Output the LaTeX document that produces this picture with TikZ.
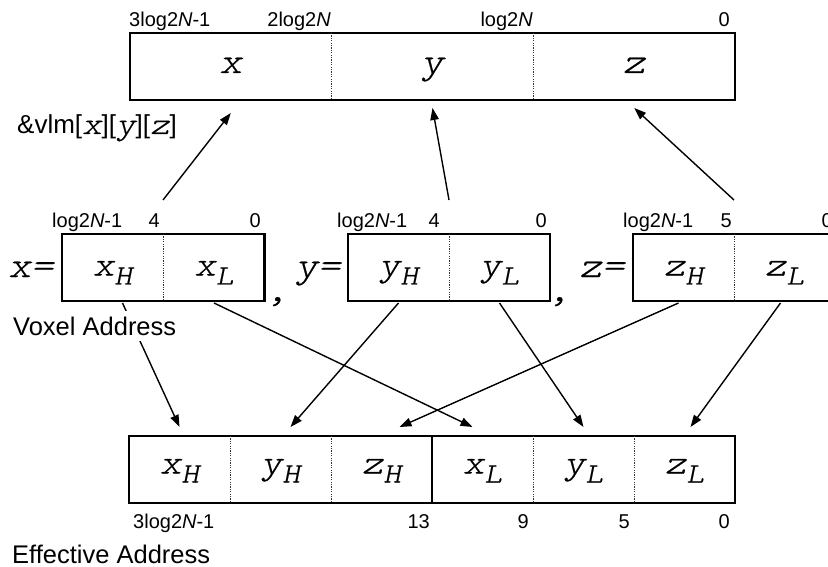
\documentclass[tikz,border=0pt]{standalone}
\usepackage{fontspec}
\setmainfont{Liberation Sans}
\newfontfamily\vfam{lmmonolt10-oblique.otf}[FakeStretch=1.2,FakeBold=0.6]
\usetikzlibrary{arrows.meta}
\newcommand\vbig[1]{{\fontsize{36}{36}\vfam #1}}
\newcommand\vsmall[1]{{\fontsize{31}{31}\vfam #1}}
\newcommand\vcell[2]{{\fontsize{34}{34}\vfam #1}\raisebox{-9pt}{\fontsize{28}{28}\vfam #2}}
\newcommand\blab{\fontsize{20}{20}\selectfont}
\newcommand\tlab{\fontsize{25.5}{26}\selectfont}
\begin{document}
\begin{tikzpicture}[x=1pt,y=-1pt,
  cell/.style={minimum width=101pt, minimum height=67pt, inner sep=0pt, outer sep=0pt},
  tcell/.style={cell, minimum width=201.7pt},
  boxline/.style={line width=2.6pt},
  sepline/.style={line width=0.8pt, dash pattern=on 1.2pt off 1.2pt, black!80},
  arr/.style={line width=1.4pt, -{Triangle[length=12pt,width=8.5pt]}},
  bit/.style={inner sep=0pt, font=\blab},
  txt/.style={inner sep=0pt, anchor=base}]
\useasboundingbox (0,0) rectangle (828,567);
% top box
\node[tcell] (tx) at (230.8,66.5) {};
\node[tcell] (ty) at (432.5,66.5) {};
\node[tcell] (tz) at (634.2,66.5) {};
\node[txt] (ttx) at (230.8,73) {\vbig{x}};
\node[txt] (tty) at (432.5,73) {\vbig{y}};
\node[txt] (ttz) at (634.2,73) {\vbig{z}};
\draw[boxline] (tx.north west) rectangle (tz.south east);
\draw[sepline] (tx.north east) -- (tx.south east);
\draw[sepline] (ty.north east) -- (ty.south east);
\node[bit, anchor=base west] (l1) at (129,27) {3log2\textit{N}-1};
\node[bit, anchor=base east] (l2) at (331,27) {2log2\textit{N}};
\node[bit, anchor=base east] (l3) at (533,27) {log2\textit{N}};
\node[bit, anchor=base east] (l4) at (730,27) {0};
\node[inner sep=0pt, anchor=base west] (vlm) at (17,134) {\fontsize{26}{26}\selectfont\&vlm[\vsmall{x}][\vsmall{y}][\vsmall{z}]};
% middle boxes
\node[cell] (mxH) at (112.5,267.5) {};
\node[cell] (mxL) at (214,267.5) {};
\node[cell] (myH) at (398.5,267.5) {};
\node[cell] (myL) at (499.5,267.5) {};
\node[cell] (mzH) at (683.5,267.5) {};
\node[cell] (mzL) at (784.5,267.5) {};
\foreach \n/\a/\b in {mxH/x/H, mxL/x/L, myH/y/H, myL/y/L, mzH/z/H, mzL/z/L}
  \node[txt] (t\n) at ([yshift=-8pt]\n.center) {\vcell{\a}{\b}};
\draw[boxline] (mxH.north west) rectangle (mxL.south east);
\draw[sepline] (mxH.north east) -- (mxH.south east);
\draw[boxline] (myH.north west) rectangle (myL.south east);
\draw[sepline] (myH.north east) -- (myH.south east);
\draw[boxline] (mzH.north west) rectangle (mzL.south east);
\draw[sepline] (mzH.north east) -- (mzH.south east);
\node[txt, anchor=base east] (eqx) at (54,277) {\vbig{x=}};
\node[txt, anchor=base east] (eqy) at (341,277) {\vbig{y=}};
\node[txt, anchor=base east] (eqz) at (625,277) {\vbig{z=}};
\node[txt] (c1) at (277,301) {\vbig{,}};
\node[txt] (c2) at (559,301) {\vbig{,}};
\node[bit, anchor=base west] (m1) at (52,228) {log2\textit{N}-1};
\node[bit, anchor=base east] (m2) at (160,228) {4};
\node[bit, anchor=base east] (m3) at (261,228) {0};
\node[bit, anchor=base west] (m4) at (337,228) {log2\textit{N}-1};
\node[bit, anchor=base east] (m5) at (440,228) {4};
\node[bit, anchor=base east] (m6) at (547,228) {0};
\node[bit, anchor=base west] (m7) at (623,228) {log2\textit{N}-1};
\node[bit, anchor=base east] (m8) at (732,228) {5};
\node[bit, anchor=base east] (m9) at (833,228) {0};
% bottom box
\node[cell] (bxH) at (179.5,469.5) {};
\node[cell] (byH) at (280.5,469.5) {};
\node[cell] (bzH) at (381.5,469.5) {};
\node[cell] (bxL) at (482.5,469.5) {};
\node[cell] (byL) at (583.5,469.5) {};
\node[cell] (bzL) at (684.5,469.5) {};
\foreach \n/\a/\b in {bxH/x/H, byH/y/H, bzH/z/H, bxL/x/L, byL/y/L, bzL/z/L}
  \node[txt] (t\n) at ([yshift=-4pt]\n.center) {\vcell{\a}{\b}};
\draw[boxline] (bxH.north west) rectangle (bzL.south east);
\draw[sepline] (bxH.north east) -- (bxH.south east);
\draw[sepline] (byH.north east) -- (byH.south east);
\draw[line width=1.6pt] (bzH.north east) -- (bzH.south east);
\draw[sepline] (bxL.north east) -- (bxL.south east);
\draw[sepline] (byL.north east) -- (byL.south east);
\node[bit, anchor=base west] (b1) at (133,528) {3log2\textit{N}-1};
\node[bit, anchor=base east] (b2) at (430,528) {13};
\node[bit, anchor=base east] (b3) at (529,528) {9};
\node[bit, anchor=base east] (b4) at (630,528) {5};
\node[bit, anchor=base east] (b5) at (730,528) {0};
% arrows up
\draw[arr] ([yshift=34pt]mxH.north east) -- ([yshift=-13pt]tx.south);
\draw[arr] ([yshift=34pt]myH.north east) -- ([yshift=-8pt]ty.south);
\draw[arr] ([yshift=34pt]mzH.north east) -- ([yshift=-8pt]tz.south);
% arrows down
\draw[arr] ([xshift=10pt,yshift=-2pt]mxH.south) -- ([yshift=9pt]bxH.north);
\draw[arr] ([yshift=-2pt]mxL.south) -- ([xshift=-10pt,yshift=9pt]bxL.north);
\draw[arr] ([yshift=-2pt]myH.south) -- ([xshift=10pt,yshift=9pt]byH.north);
\draw[arr] ([yshift=-2pt]myL.south) -- ([yshift=9pt]byL.north);
\draw[arr] ([xshift=-5pt,yshift=-2pt]mzH.south) -- ([xshift=18pt,yshift=9pt]bzH.north);
\draw[arr] ([xshift=-4pt,yshift=-2pt]mzL.south) -- ([xshift=6pt,yshift=9pt]bzL.north);
% labels
\node[fill=white, inner xsep=1pt, inner ysep=6pt, anchor=base west, font=\tlab] (vox) at (12,335) {Voxel Address};
\node[inner sep=0pt, anchor=base west, font=\tlab] (eff) at (12,563) {Effective Address};
\end{tikzpicture}
\end{document}
